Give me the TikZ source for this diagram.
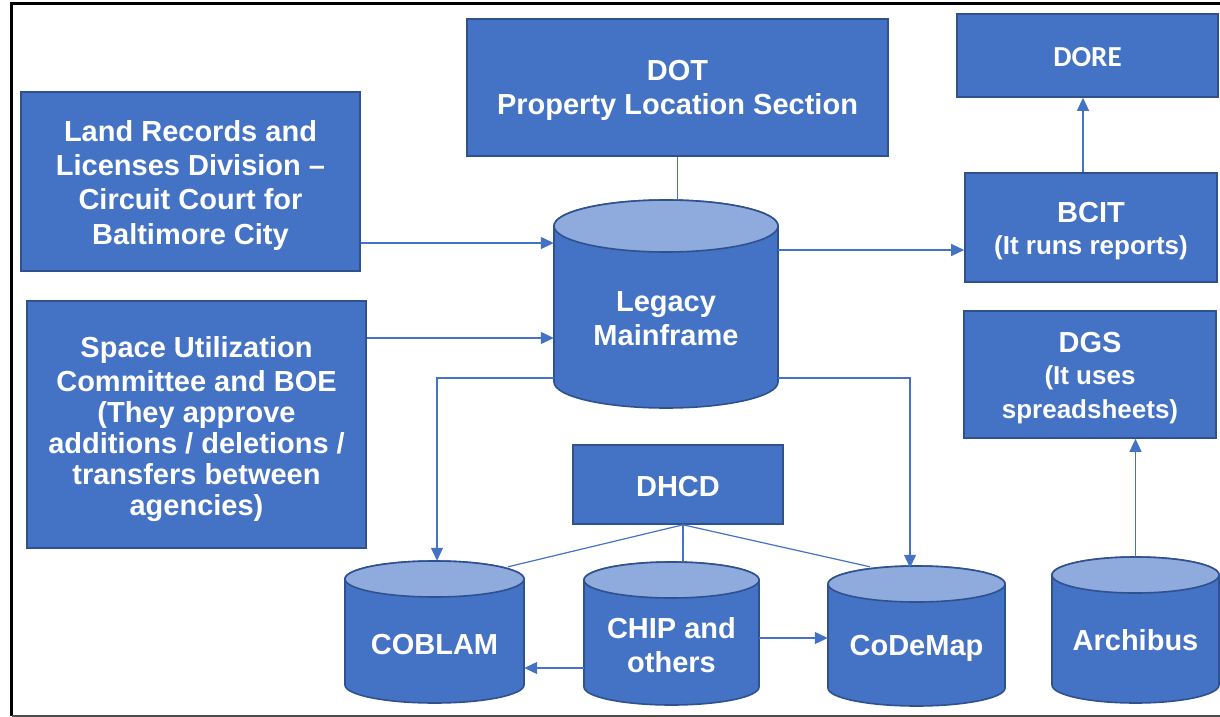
\documentclass[tikz,border=0pt]{standalone}
\usepackage{fontspec}
\setmainfont{Liberation Sans}
\newfontfamily\calibri{Carlito}
\usepackage{tikz}
\usetikzlibrary{arrows.meta}
\definecolor{boxblue}{HTML}{4472C4}
\definecolor{boxedge}{HTML}{2F528F}
\definecolor{toplight}{HTML}{8FAADC}

\begin{document}
\begin{tikzpicture} [x=1pt, y=-1pt,
  unit/.style={draw=boxedge, fill=boxblue, line width=1.6pt, inner sep=0pt},
  dbbody/.style={draw=boxedge, fill=boxblue, line width=1.6pt},
  dbtop/.style={draw=boxedge, fill=toplight, line width=1.6pt},
  dbnode/.style={inner sep=0pt},
  dbtext/.style={text=white, align=center, font=\bfseries\fontsize{29}{34}\selectfont},
  link/.style={boxblue, line width=1.2pt},
  flow/.style={link, -{Triangle[length=13pt, width=12pt]}}]
\useasboundingbox (0,0) rectangle (1220,717);
% frame
\draw[black, line width=2.5pt] (1220,3.5) -- (11.5,3.5) -- (11.5,716);
\draw[black!70, line width=1.5pt] (11.5,716) -- (1220,716);
% sources on the left and top
\node[unit, minimum width=339pt, minimum height=179pt] (landrec) at (190.5,181.5) {};
\node[dbtext] (landrec-txt) at ([yshift=-4pt]landrec.center)
  {Land Records and\\Licenses Division --\\Circuit Court for\\Baltimore City};
\node[unit, minimum width=339pt, minimum height=247pt] (spaceu) at (196.5,424.5) {};
\node[dbtext] (spaceu-txt) at ([yshift=-5pt]spaceu.center)
  {Space Utilization\\Committee and BOE\\[-3pt](They approve\\[-3pt]additions / deletions /\\[-3pt]transfers between\\[-3pt]agencies)};
\node[unit, minimum width=421pt, minimum height=137pt] (dot) at (677.5,87.5) {};
\node[dbtext] (dot-txt) at ([yshift=-3pt]dot.center) {DOT\\Property Location Section};
% boxes on the right
\node[unit, minimum width=261pt, minimum height=83pt] (dore) at (1087.5,55.5) {};
\node[dbtext, font=\calibri\bfseries\fontsize{29}{34}\selectfont] (dore-txt) at ([yshift=-2pt]dore.center) {DORE};
\node[unit, minimum width=252pt, minimum height=109pt] (bcit) at (1091,227.5) {};
\node[dbtext] (bcit-txt) at ([yshift=-4pt]bcit.center)
  {BCIT\\[-2pt]{\fontsize{26}{32}\selectfont(It runs reports)}};
\node[unit, minimum width=252pt, minimum height=127pt] (dgs) at (1090,374.5) {};
\node[dbtext] (dgs-txt) at ([yshift=-4pt]dgs.center)
  {DGS\\[-2pt]{\fontsize{26}{32}\selectfont(It uses}\\{\fontsize{26}{32}\selectfont spreadsheets)}};
\node[unit, minimum width=210pt, minimum height=79pt] (dhcd) at (678,484.5) {};
\node[dbtext] (dhcd-txt) at ([yshift=-2pt]dhcd.center) {DHCD};
% legacy mainframe
\filldraw[dbbody] (554,226) -- (554,382) arc[start angle=180, end angle=360, x radius=112pt, y radius=26pt]
  -- (778,226) arc[start angle=0, end angle=180, x radius=112pt, y radius=26pt] -- cycle;
\filldraw[dbtop] (666,226) ellipse[x radius=112pt, y radius=26pt];
\node[dbnode, minimum width=224pt, minimum height=208pt] (legacy) at (666,304) {};
\node[dbtext] (legacy-txt) at (666,319) {Legacy\\Mainframe};
% COBLAM
\filldraw[dbbody] (345,579) -- (345,685) arc[start angle=180, end angle=360, x radius=89.5pt, y radius=18pt]
  -- (524,579) arc[start angle=0, end angle=180, x radius=89.5pt, y radius=18pt] -- cycle;
\filldraw[dbtop] (434.5,579) ellipse[x radius=89.5pt, y radius=18pt];
\node[dbnode, minimum width=179pt, minimum height=142pt] (coblam) at (434.5,632) {};
\node[dbtext] (coblam-txt) at (434.5,645) {COBLAM};
% CHIP and others
\filldraw[dbbody] (584,580) -- (584,687) arc[start angle=180, end angle=360, x radius=87.5pt, y radius=18pt]
  -- (759,580) arc[start angle=0, end angle=180, x radius=87.5pt, y radius=18pt] -- cycle;
\filldraw[dbtop] (671.5,580) ellipse[x radius=87.5pt, y radius=18pt];
\node[dbnode, minimum width=175pt, minimum height=143pt] (chip) at (671.5,633.5) {};
\node[dbtext] (chip-txt) at (671.5,645) {CHIP and\\others};
% CoDeMap
\filldraw[dbbody] (828,584) -- (828,688) arc[start angle=180, end angle=360, x radius=88.5pt, y radius=18pt]
  -- (1005,584) arc[start angle=0, end angle=180, x radius=88.5pt, y radius=18pt] -- cycle;
\filldraw[dbtop] (916.5,584) ellipse[x radius=88.5pt, y radius=18pt];
\node[dbnode, minimum width=177pt, minimum height=140pt] (codemap) at (916.5,636) {};
\node[dbtext] (codemap-txt) at (916.5,648) {CoDeMap};
% Archibus
\filldraw[dbbody] (1052,575) -- (1052,685) arc[start angle=180, end angle=360, x radius=83.5pt, y radius=18pt]
  -- (1219,575) arc[start angle=0, end angle=180, x radius=83.5pt, y radius=18pt] -- cycle;
\filldraw[dbtop] (1135.5,575) ellipse[x radius=83.5pt, y radius=18pt];
\node[dbnode, minimum width=167pt, minimum height=146pt] (archibus) at (1135.5,630) {};
\node[dbtext] (archibus-txt) at (1135.5,640) {Archibus};
% connectors
\draw[link] (dot.south) -- (dot.south |- legacy.north);
\draw[flow] ([yshift=-61.5pt]landrec.east) -- ([yshift=-61.5pt]landrec.east -| legacy.west);
\draw[flow] ([yshift=86.5pt]spaceu.east) -- ([yshift=86.5pt]spaceu.east -| legacy.west);
\draw[flow] ([yshift=54pt]legacy.east) -- ([yshift=54pt]legacy.east -| bcit.west);
\draw[flow] ([xshift=-8pt]bcit.north) -- ([xshift=-8pt]bcit.north |- dore.south);
\draw[flow] ([yshift=-74pt]legacy.west) -| ([xshift=2.5pt]coblam.north);
\draw[flow] ([yshift=-74pt]legacy.east) -| ([xshift=-6.5pt, yshift=-2pt]codemap.north);
\draw[flow] (archibus.north) -- (archibus.north |- dgs.south);
\draw[link] ([xshift=5pt]dhcd.south) -- ([xshift=73.5pt, yshift=-6pt]coblam.north);
\draw[link] ([xshift=5pt]dhcd.south) -- ([xshift=5pt]dhcd.south |- chip.north);
\draw[link] ([xshift=5pt]dhcd.south) -- ([xshift=-46.5pt, yshift=-1pt]codemap.north);
\draw[flow] ([yshift=-4.5pt]chip.east) -- ([yshift=-4.5pt]chip.east -| codemap.west);
\draw[flow] ([yshift=-34.5pt]chip.west) -- ([yshift=-34.5pt]chip.west -| coblam.east);
\end{tikzpicture}
\end{document}
